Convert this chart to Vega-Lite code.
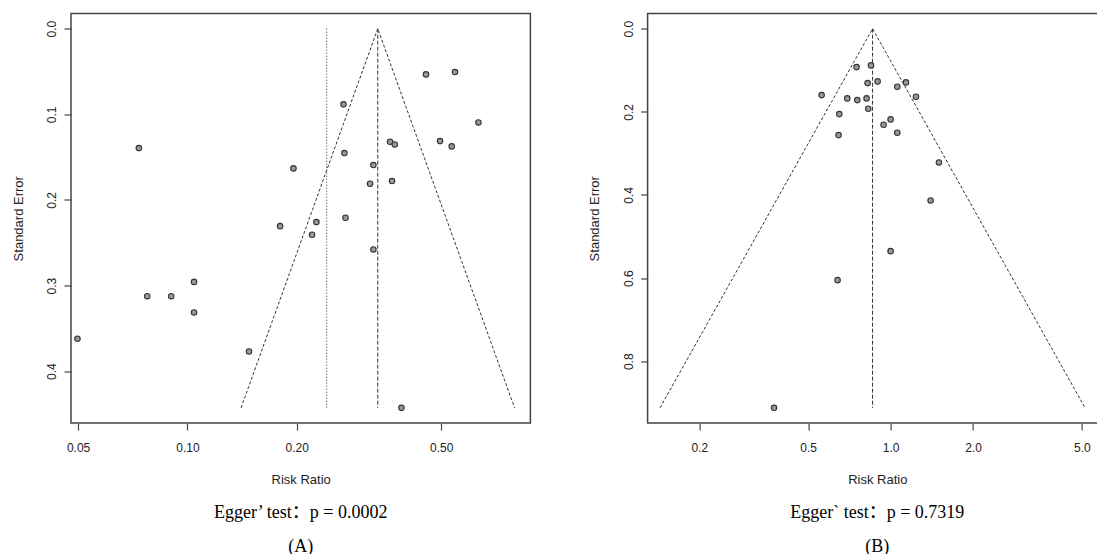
{
  "$schema": "https://vega.github.io/schema/vega-lite/v6.json",
  "background": "white",
  "padding": {"left": 11, "top": 12.5, "right": 0, "bottom": 0},
  "config": {
    "view": {"stroke": "#444", "strokeWidth": 1.5},
    "axis": {"grid": false, "domain": false, "tickColor": "#444", "tickSize": 7, "tickWidth": 1.2,
      "labelFont": "Liberation Sans", "labelFontSize": 12, "labelColor": "#222",
      "titleFont": "Liberation Sans", "titleFontSize": 13, "titleFontWeight": "normal", "titleColor": "#222"},
    "axisX": {"labelPadding": 12, "titlePadding": 20},
    "axisY": {"labelAngle": -90, "labelAlign": "center", "labelBaseline": "bottom", "labelPadding": 5.5, "titlePadding": 20.5},
    "title": {"orient": "bottom", "anchor": "middle", "font": "Liberation Serif, Noto Sans CJK SC", "fontSize": 18,
      "fontWeight": "normal", "color": "#000", "lineHeight": 34, "offset": 18}
  },
  "datasets": {
    "pointsA": [
      {"rr": 0.0735, "se": 0.1395}, {"rr": 0.0498, "se": 0.3621}, {"rr": 0.0775, "se": 0.3124},
      {"rr": 0.0902, "se": 0.3124}, {"rr": 0.1043, "se": 0.2957}, {"rr": 0.1043, "se": 0.3314},
      {"rr": 0.1478, "se": 0.377}, {"rr": 0.18, "se": 0.2306}, {"rr": 0.1959, "se": 0.1632},
      {"rr": 0.2204, "se": 0.2407}, {"rr": 0.2266, "se": 0.2259}, {"rr": 0.269, "se": 0.0884},
      {"rr": 0.2706, "se": 0.1453}, {"rr": 0.2724, "se": 0.2208}, {"rr": 0.3184, "se": 0.1811},
      {"rr": 0.3252, "se": 0.1593}, {"rr": 0.3252, "se": 0.2578}, {"rr": 0.3614, "se": 0.132},
      {"rr": 0.3723, "se": 0.1352}, {"rr": 0.366, "se": 0.178}, {"rr": 0.3884, "se": 0.4428},
      {"rr": 0.4539, "se": 0.0534}, {"rr": 0.5455, "se": 0.0507}, {"rr": 0.4962, "se": 0.1313},
      {"rr": 0.5343, "se": 0.1375}, {"rr": 0.6329, "se": 0.1095}
    ],
    "linesA": [
      {"kind": "funnel", "ord": 1, "rr": 0.1405, "se": 0.4428},
      {"kind": "funnel", "ord": 2, "rr": 0.3343, "se": 0},
      {"kind": "funnel", "ord": 3, "rr": 0.796, "se": 0.4428},
      {"kind": "center", "ord": 1, "rr": 0.3343, "se": 0},
      {"kind": "center", "ord": 2, "rr": 0.3343, "se": 0.4428},
      {"kind": "ref", "ord": 1, "rr": 0.2418, "se": 0},
      {"kind": "ref", "ord": 2, "rr": 0.2418, "se": 0.4428}
    ],
    "pointsB": [
      {"rr": 0.751, "se": 0.0924}, {"rr": 0.848, "se": 0.0883}, {"rr": 0.824, "se": 0.1309},
      {"rr": 0.8965, "se": 0.1268}, {"rr": 1.058, "se": 0.1396}, {"rr": 1.138, "se": 0.1292},
      {"rr": 0.5598, "se": 0.1598}, {"rr": 0.6945, "se": 0.1677}, {"rr": 0.7556, "se": 0.1718},
      {"rr": 0.8171, "se": 0.1677}, {"rr": 1.238, "se": 0.1636}, {"rr": 0.8288, "se": 0.1925},
      {"rr": 0.6495, "se": 0.2055}, {"rr": 1.0, "se": 0.2182}, {"rr": 0.9428, "se": 0.231},
      {"rr": 0.6456, "se": 0.256}, {"rr": 1.058, "se": 0.2502}, {"rr": 1.502, "se": 0.3217},
      {"rr": 1.4, "se": 0.4131}, {"rr": 1.0, "se": 0.5351}, {"rr": 0.6402, "se": 0.6049},
      {"rr": 0.375, "se": 0.912}
    ],
    "linesB": [
      {"kind": "funnel", "ord": 1, "rr": 0.1438, "se": 0.912},
      {"kind": "funnel", "ord": 2, "rr": 0.8593, "se": 0},
      {"kind": "funnel", "ord": 3, "rr": 5.134, "se": 0.912},
      {"kind": "center", "ord": 1, "rr": 0.8593, "se": 0},
      {"kind": "center", "ord": 2, "rr": 0.8593, "se": 0.912}
    ]
  },
  "bounds": "flush",
  "spacing": 116.6,
  "hconcat": [
    {
      "width": 459.4,
      "height": 409.5,
      "title": {"text": ["Egger’ test：p = 0.0002", "(A)"]},
      "layer": [
        {
          "data": {"name": "linesA"},
          "mark": {"type": "line", "color": "#333", "strokeWidth": 1},
          "encoding": {
            "x": {"field": "rr", "type": "quantitative",
              "scale": {"type": "log", "domain": [0.0478, 0.88], "nice": false},
              "axis": {"values": [0.05, 0.1, 0.2, 0.5], "format": ".2f", "title": "Risk Ratio"}},
            "y": {"field": "se", "type": "quantitative",
              "scale": {"domain": [-0.0177, 0.4605], "reverse": true, "nice": false, "zero": false},
              "axis": {"values": [0, 0.1, 0.2, 0.3, 0.4], "format": ".1f", "title": "Standard Error"}},
            "detail": {"field": "kind"},
            "order": {"field": "ord"},
            "strokeDash": {"field": "kind", "type": "nominal", "legend": null,
              "scale": {"domain": ["funnel", "center", "ref"], "range": [[3, 2], [4, 2], [1, 2]]}}
          }
        },
        {
          "data": {"name": "pointsA"},
          "mark": {"type": "circle", "fill": "#999999", "stroke": "#333", "strokeWidth": 1.1, "size": 30, "opacity": 1},
          "encoding": {
            "x": {"field": "rr", "type": "quantitative"},
            "y": {"field": "se", "type": "quantitative"}
          }
        }
      ]
    },
    {
      "width": 459.4,
      "height": 409.5,
      "title": {"text": ["Egger` test：p = 0.7319", "(B)"]},
      "layer": [
        {
          "data": {"name": "linesB"},
          "mark": {"type": "line", "color": "#333", "strokeWidth": 1},
          "encoding": {
            "x": {"field": "rr", "type": "quantitative",
              "scale": {"type": "log", "domain": [0.1295, 6.175], "nice": false},
              "axis": {"values": [0.2, 0.5, 1, 2, 5], "format": ".1f", "title": "Risk Ratio"}},
            "y": {"field": "se", "type": "quantitative",
              "scale": {"domain": [-0.0365, 0.9485], "reverse": true, "nice": false, "zero": false},
              "axis": {"values": [0, 0.2, 0.4, 0.6, 0.8], "format": ".1f", "title": "Standard Error"}},
            "detail": {"field": "kind"},
            "order": {"field": "ord"},
            "strokeDash": {"field": "kind", "type": "nominal", "legend": null,
              "scale": {"domain": ["funnel", "center"], "range": [[3, 2], [4, 2]]}}
          }
        },
        {
          "data": {"name": "pointsB"},
          "mark": {"type": "circle", "fill": "#999999", "stroke": "#333", "strokeWidth": 1.1, "size": 30, "opacity": 1},
          "encoding": {
            "x": {"field": "rr", "type": "quantitative"},
            "y": {"field": "se", "type": "quantitative"}
          }
        }
      ]
    }
  ]
}
